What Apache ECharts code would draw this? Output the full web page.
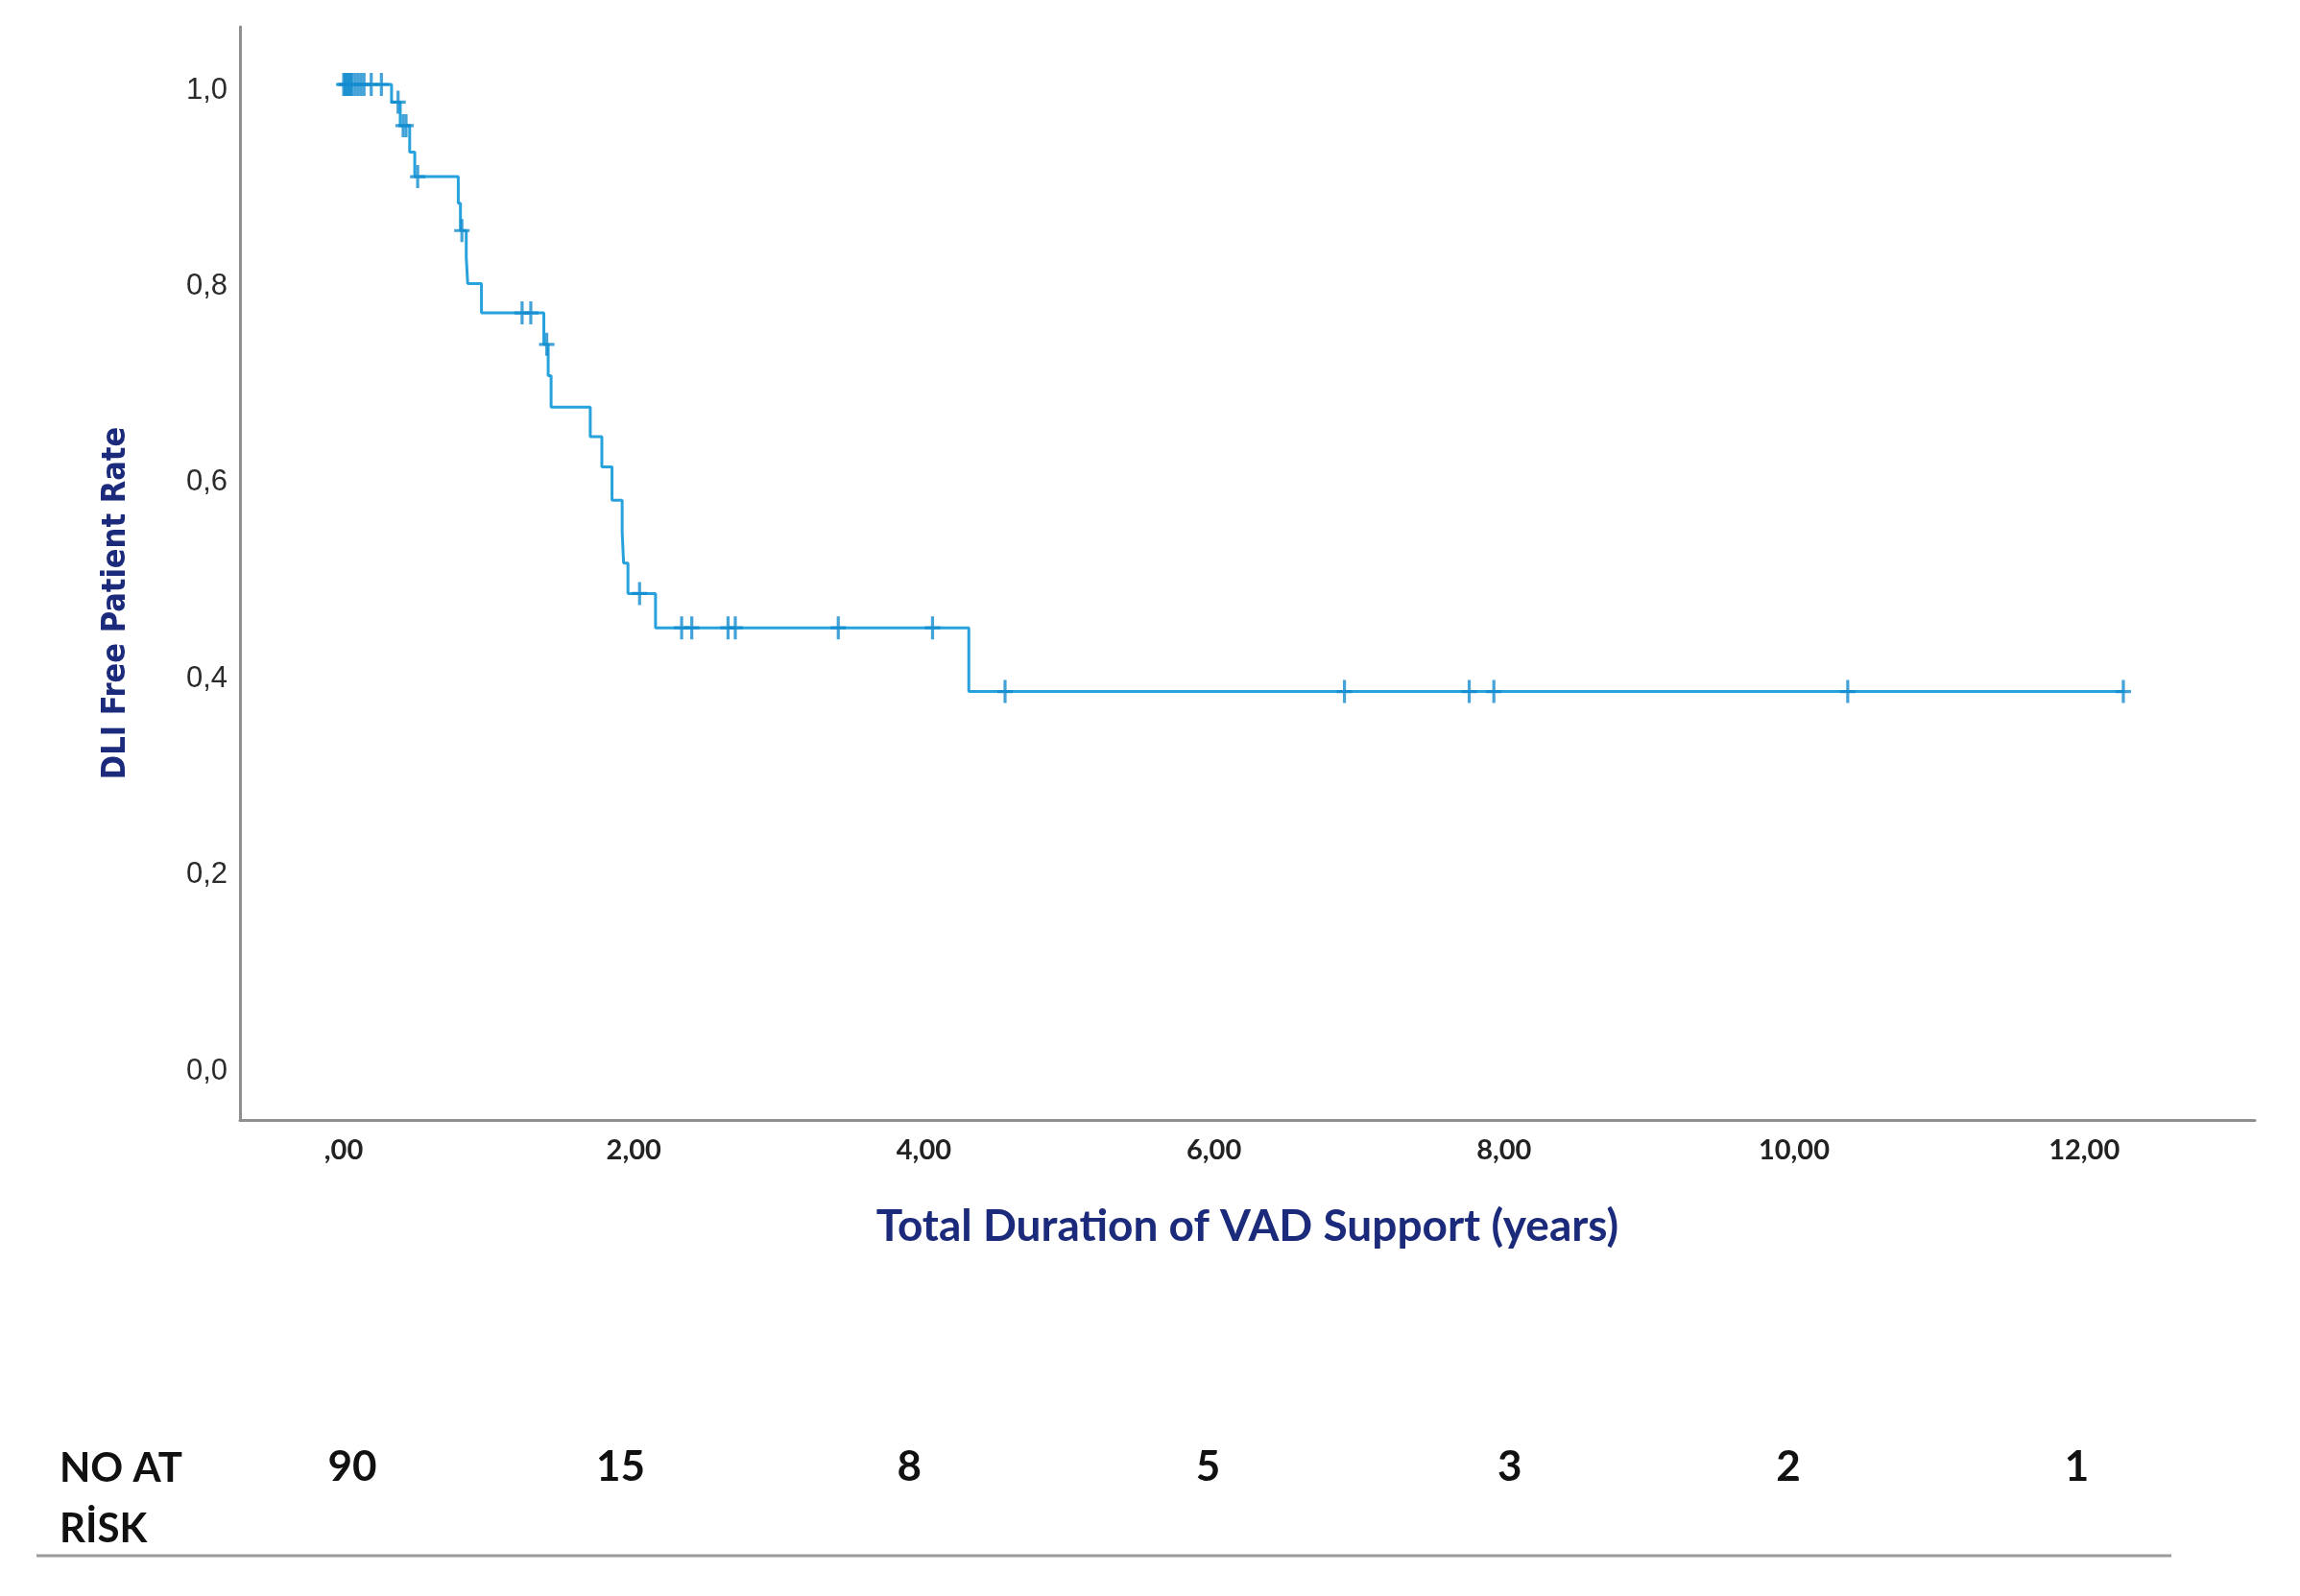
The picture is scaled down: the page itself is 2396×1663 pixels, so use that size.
<!DOCTYPE html>
<html>
<head>
<meta charset="utf-8">
<script src="https://cdn.jsdelivr.net/npm/echarts@6/dist/echarts.min.js"></script>
<style>
html,body{margin:0;padding:0;background:#fff;}
#chart{width:2396px;height:1663px;}
</style>
</head>
<body>
<div id="chart"></div>
<script>
// Kaplan-Meier step points (time in years, survival)
const eventTimes = [0, 0.33, 0.39, 0.455, 0.49, 0.79, 0.805, 0.845, 0.855, 0.95, 1.38, 1.41, 1.43, 1.70, 1.78, 1.85, 1.92, 1.93, 1.96, 2.15, 4.31, 12.28];
const survivalValues = [1.0, 0.982, 0.958, 0.931, 0.906, 0.879, 0.851, 0.824, 0.797, 0.767, 0.735, 0.703, 0.671, 0.641, 0.610, 0.576, 0.544, 0.512, 0.481, 0.446, 0.381, 0.381];
// censored observations (time in years)
const censorTimes = [0.00, 0.01, 0.02, 0.03, 0.04, 0.05, 0.06, 0.08, 0.10, 0.12, 0.14, 0.19, 0.26,
  0.375, 0.41, 0.43, 0.51, 0.815, 1.23, 1.29, 1.40, 2.04,
  2.33, 2.40, 2.65, 2.70, 3.41, 4.06,
  4.56, 6.90, 7.76, 7.93, 10.37, 12.27];
const xTickValues = [0, 2, 4, 6, 8, 10, 12];
const yTickValues = [0, 0.2, 0.4, 0.6, 0.8, 1.0];
const riskTimes = [0, 2, 4, 6, 8, 10, 12];
const riskCounts = [90, 15, 8, 5, 3, 2, 1];

// layout only: small horizontal nudges of the at-risk labels (years)
const riskNudge = [0.06, -0.09, -0.10, -0.04, 0.04, -0.04, -0.05];
const riskLabelPos = riskTimes.map((t, i) => t + riskNudge[i]);

const lineData = eventTimes.map((t, i) => [t, survivalValues[i]]);
function survAt(t) {
  let s = survivalValues[0];
  for (let i = 0; i < eventTimes.length; i++) { if (eventTimes[i] <= t) s = survivalValues[i]; }
  return s;
}
const censorData = censorTimes.map(t => [t, survAt(t)]);

const plus = 'path://M-1.6,-12 L1.6,-12 L1.6,-1.6 L8,-1.6 L8,1.6 L1.6,1.6 L1.6,12 L-1.6,12 L-1.6,1.6 L-8,1.6 L-8,-1.6 L-1.6,-1.6 Z';

const chart = echarts.init(document.getElementById('chart'));
chart.setOption({
  backgroundColor: '#ffffff',
  animation: false,
  title: {
    text: 'NO AT\nRİSK',
    left: 57, top: 1494,
    textStyle: { fontFamily: 'Lato', fontWeight: 'bold', fontSize: 42, lineHeight: 63, color: '#111111' }
  },
  grid: { left: 250, right: 47, top: 28, bottom: 496, containLabel: false },
  xAxis: [{
    type: 'value', min: -0.715, max: 13.177,
    name: 'Total Duration of VAD Support (years)',
    nameLocation: 'middle', nameGap: 88,
    nameTextStyle: { fontFamily: 'Lato', fontWeight: 'bold', fontSize: 46, color: '#1b2a7a' },
    axisLine: { show: true, onZero: false, lineStyle: { color: '#8f8f8f', width: 3 } },
    axisTick: { show: false },
    splitLine: { show: false },
    axisLabel: {
      customValues: xTickValues, margin: 17,
      fontFamily: 'Lato', fontWeight: 'bold', fontSize: 29, color: '#222222',
      formatter: v => (v === 0 ? ',00' : v.toFixed(2).replace('.', ','))
    }
  }, {
    type: 'value', min: -0.715, max: 13.177, position: 'bottom', offset: 328,
    axisLine: { show: false }, axisTick: { show: false }, splitLine: { show: false },
    axisLabel: {
      customValues: riskLabelPos, margin: 12,
      fontFamily: 'Lato', fontWeight: 'bold', fontSize: 44, color: '#111111',
      formatter: v => {
        let best = 0;
        riskLabelPos.forEach((p, i) => { if (Math.abs(p - v) < Math.abs(riskLabelPos[best] - v)) best = i; });
        return String(riskCounts[best]);
      }
    }
  }],
  yAxis: {
    type: 'value', min: -0.0558, max: 1.0587,
    name: 'DLI Free Patient Rate',
    nameLocation: 'middle', nameGap: 112,
    nameTextStyle: {
      fontFamily: "'Liberation Sans Narrow', 'DejaVu Sans Condensed', 'Liberation Sans', sans-serif",
      fontWeight: 'bold', fontSize: 34, color: '#1b2a7a', padding: [0, 62, 0, 0]
    },
    axisLine: { show: true, onZero: false, lineStyle: { color: '#8f8f8f', width: 3 } },
    axisTick: { show: false },
    splitLine: { show: false },
    axisLabel: {
      customValues: yTickValues, margin: 13, verticalAlign: 'top', lineHeight: 12,
      fontFamily: "'Liberation Sans', Arial, sans-serif", fontSize: 31, color: '#2b2b2b',
      formatter: v => v.toFixed(1).replace('.', ',')
    }
  },
  series: [{
    type: 'line', step: 'end', data: lineData, xAxisIndex: 0,
    showSymbol: false, symbol: 'none',
    lineStyle: { color: '#27a2dc', width: 3 }, z: 2
  }, {
    type: 'scatter', data: censorData, xAxisIndex: 0,
    symbol: plus, symbolSize: [16, 24],
    itemStyle: { color: '#148cce' }, z: 3
  }],
  graphic: [{
    type: 'line',
    shape: { x1: 38, y1: 1621, x2: 2262, y2: 1621 },
    style: { stroke: '#9a9a9a', lineWidth: 3 }
  }]
});
</script>
</body>
</html>
